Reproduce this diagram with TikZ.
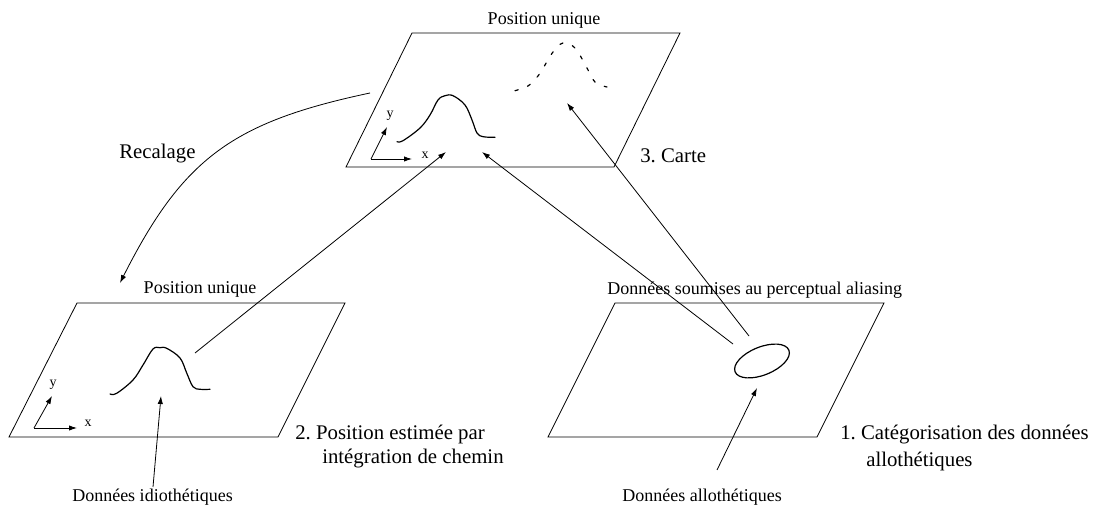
\documentclass[tikz,border=0pt]{standalone}
\usepackage{fontspec}
\setmainfont{Liberation Serif}
\usetikzlibrary{arrows.meta}
\frenchspacing
\begin{document}
\begin{tikzpicture}[x=0.75pt,y=-0.75pt,
  plate/.style={draw, line width=0.6pt, line join=miter},
  conn/.style={draw, line width=0.6pt},
  arr/.style={conn, -{Latex[length=6pt,width=4pt]}},
  gauss/.style={draw, line width=0.9pt, line join=round, line cap=round},
  dgauss/.style={gauss, dash pattern=on 2.5pt off 7.5pt},
  small/.style={font=\fontsize{13.5}{16}\selectfont, inner sep=0pt},
  big/.style={font=\fontsize{15.6}{18}\selectfont, inner sep=0pt},
  axlab/.style={font=\fontsize{10.5}{12}\selectfont, inner sep=0pt}]
\useasboundingbox (0,0) rectangle (1101,509);

% plates
\draw[plate] (346,167) -- (614,167) -- (680,33) -- (412,33) -- cycle;
\draw[plate] (9,437) -- (278,437) -- (345,303) -- (77,303) -- cycle;
\draw[plate] (548,437) -- (817,437) -- (884,303) -- (615,303) -- cycle;

% plate titles
\node[small, anchor=base] (titleT) at (544,25) {Position unique};
\node[small, anchor=base] (titleL) at (200,294) {Position unique};
\node[small, anchor=base west] (titleR) at (607,295) {Données soumises au perceptual aliasing};

% top plate contents
\coordinate (oT) at (371,159);
\coordinate (xT) at (412,159);
\coordinate (yT) at (387,127);
\draw[arr] (oT) -- (xT);
\draw[arr] (oT) -- (yT);
\node[axlab, anchor=base] (yTl) at (390,118) {y};
\node[axlab, anchor=base] (xTl) at (425,159) {x};
\draw[gauss] plot[smooth, tension=0.6] coordinates {(397,141.7) (403,140.7) (420,128) (430,115) (438,100) (445,95.7) (453,95.7) (465,105) (472,120) (477,133) (483,136.7) (495,137.3)};
\draw[dgauss] plot[smooth, tension=0.6] coordinates {(515,90.7) (528,86) (538,76) (545,65) (553,52) (563,43) (575,48) (587,68) (595,82) (607,87)};

% bottom-left plate contents
\coordinate (oL) at (34,428);
\coordinate (xL) at (77,428);
\coordinate (yL) at (52,396);
\draw[arr] (oL) -- (xL);
\draw[arr] (oL) -- (yL);
\node[axlab, anchor=base] (yLl) at (53,387) {y};
\node[axlab, anchor=base] (xLl) at (88,427) {x};
\draw[gauss] plot[smooth, tension=0.6] coordinates {(110,394) (116.7,393.3) (133,380) (143,365) (153,349) (160,347.7) (166.7,348.3) (180,358) (186.7,373) (193,386.7) (200,389.3) (210,389.3)};

% bottom-right plate contents
\coordinate (ell) at (762,361);
\draw[line width=0.9pt] (ell) ellipse [x radius=29, y radius=14, rotate=22];

% connectors
\coordinate (gL) at (195,353);
\coordinate (hT1) at (446,152);
\coordinate (e1) at (733,344);
\coordinate (hT2) at (482,152);
\coordinate (e2) at (749,336);
\coordinate (hT3) at (567,103);
\coordinate (tA) at (717,470);
\coordinate (hA) at (757,388);
\coordinate (tI) at (153,487);
\coordinate (hI) at (161,396);
\coordinate (rS) at (370,93);
\coordinate (rE) at (120,283);
\draw[arr] (gL) -- (hT1);
\draw[arr] (e1) -- (hT2);
\draw[arr] (e2) -- (hT3);
\draw[arr] (tA) -- (hA);
\draw[arr] (tI) -- (hI);
\draw[arr] (rS) .. controls (233,122) and (183,158) .. (rE);

% labels
\node[small, anchor=base west] (idio) at (72,502) {Données idiothétiques};
\node[small, anchor=base east] (allo) at (782,502) {Données allothétiques};
\node[big, anchor=base west] (recal) at (119,159) {Recalage};
\node[big, anchor=base west] (carte) at (640,163) {3. Carte};
\node[big, anchor=base west] (pos2a) at (295,440) {2. Position estimée par};
\node[big, anchor=base west] (pos2b) at (322,464) {intégration de chemin};
\node[big, anchor=base west] (cat1a) at (840,440) {1. Catégorisation des données};
\node[big, anchor=base west] (cat1b) at (866,467) {allothétiques};
\end{tikzpicture}
\end{document}
